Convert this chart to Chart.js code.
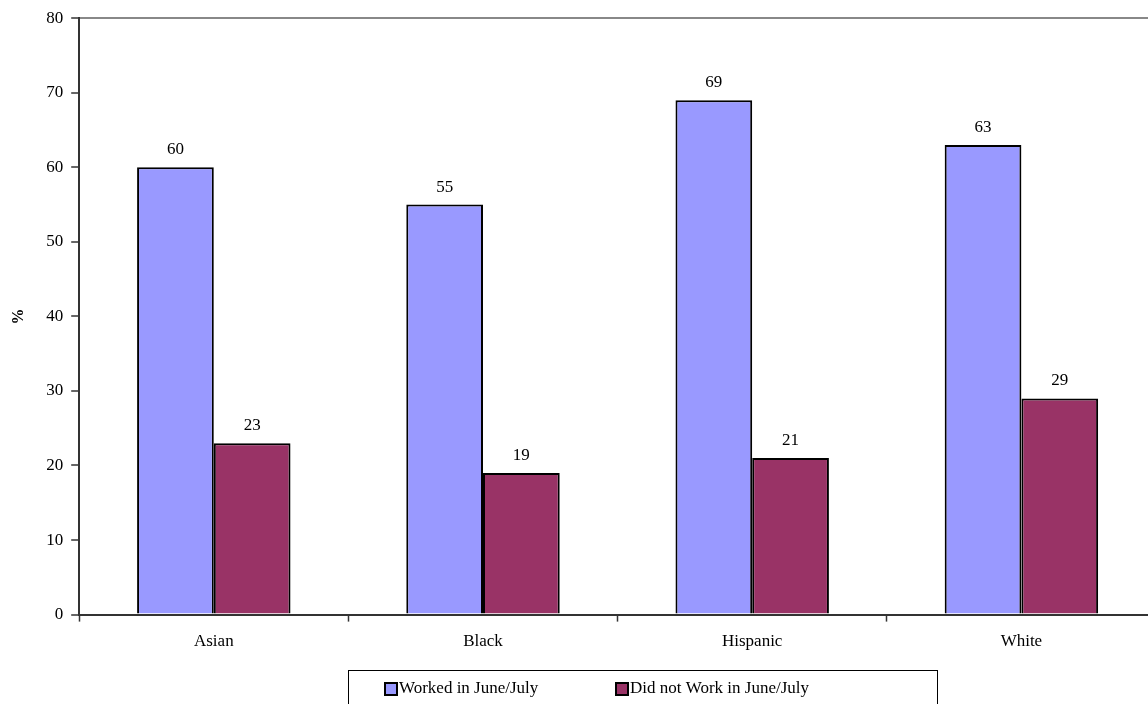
<!DOCTYPE html>
<html>
<head>
<meta charset="utf-8">
<script src="https://cdn.jsdelivr.net/npm/chart.js@4"></script>
<style>
  html, body { margin: 0; padding: 0; background: #fff; overflow: hidden; }
  #wrap { width: 1156px; height: 704px; }
</style>
</head>
<body>
<div id="wrap"><canvas id="barChart"></canvas></div>
<script>
// data
const categories = ['Asian', 'Black', 'Hispanic', 'White'];
const worked = [60, 55, 69, 63];
const didNotWork = [23, 19, 21, 29];
const seriesNames = ['Worked in June/July', 'Did not Work in June/July'];
const yTicks = [0, 10, 20, 30, 40, 50, 60, 70, 80];

const serif = '"Liberation Serif", "DejaVu Serif", serif';

// values above the bars
const valueLabels = {
  id: 'valueLabels',
  afterDatasetsDraw(chart) {
    const ctx = chart.ctx;
    ctx.save();
    ctx.font = '17px ' + serif;
    ctx.fillStyle = '#000';
    ctx.textAlign = 'center';
    ctx.textBaseline = 'bottom';
    chart.data.datasets.forEach((ds, i) => {
      chart.getDatasetMeta(i).data.forEach((bar, j) => {
        ctx.fillText(ds.data[j], bar.x, bar.y - 9);
      });
    });
    ctx.restore();
  }
};

// boxed legend under the chart
const boxLegend = {
  id: 'boxLegend',
  afterDraw(chart) {
    const ctx = chart.ctx;
    ctx.save();
    ctx.strokeStyle = '#000';
    ctx.lineWidth = 1;
    ctx.strokeRect(348.5, 670.5, 589, 40);
    ctx.font = '17px ' + serif;
    ctx.textBaseline = 'middle';
    ctx.textAlign = 'left';
    const xs = [385, 616];
    chart.data.datasets.forEach((ds, i) => {
      ctx.fillStyle = ds.backgroundColor;
      ctx.fillRect(xs[i], 683, 12, 12);
      ctx.lineWidth = 2;
      ctx.strokeRect(xs[i], 683, 12, 12);
      ctx.fillStyle = '#000';
      ctx.fillText(ds.label, xs[i] + 14, 689);
    });
    ctx.restore();
  }
};

new Chart(document.getElementById('barChart').getContext('2d'), {
  type: 'bar',
  data: {
    labels: categories,
    datasets: [
      {
        label: seriesNames[0],
        data: worked,
        backgroundColor: '#9999FF',
        borderColor: '#000',
        borderWidth: 2,
        categoryPercentage: 0.57,
        barPercentage: 1.0
      },
      {
        label: seriesNames[1],
        data: didNotWork,
        backgroundColor: '#993366',
        borderColor: '#000',
        borderWidth: 2,
        categoryPercentage: 0.57,
        barPercentage: 1.0
      }
    ]
  },
  options: {
    responsive: true,
    maintainAspectRatio: false,
    animation: false,
    layout: { padding: { top: 14, right: 0, bottom: 42, left: 9 } },
    plugins: {
      legend: { display: false },
      tooltip: { enabled: false }
    },
    scales: {
      y: {
        min: 0,
        max: 80,
        afterBuildTicks(axis) {
          axis.ticks = yTicks.map(v => ({ value: v }));
        },
        border: { color: '#333', width: 2 },
        grid: {
          color: ctx => (ctx.tick && ctx.tick.value === 80) ? '#888' : 'rgba(0,0,0,0)',
          lineWidth: 2,
          tickColor: '#333',
          tickLength: 8,
          tickWidth: 1.5
        },
        ticks: {
          color: '#000',
          padding: 8,
          font: { family: serif, size: 17 }
        },
        title: {
          display: true,
          text: '%',
          color: '#000',
          padding: { top: 0, bottom: 10 },
          font: { family: serif, size: 16, weight: 'bold' }
        }
      },
      x: {
        border: { color: '#333', width: 2 },
        grid: {
          drawOnChartArea: false,
          tickColor: '#333',
          tickLength: 7,
          tickWidth: 1.5
        },
        ticks: {
          color: '#000',
          padding: 10,
          font: { family: serif, size: 17 }
        }
      }
    }
  },
  plugins: [valueLabels, boxLegend]
});
</script>
</body>
</html>
